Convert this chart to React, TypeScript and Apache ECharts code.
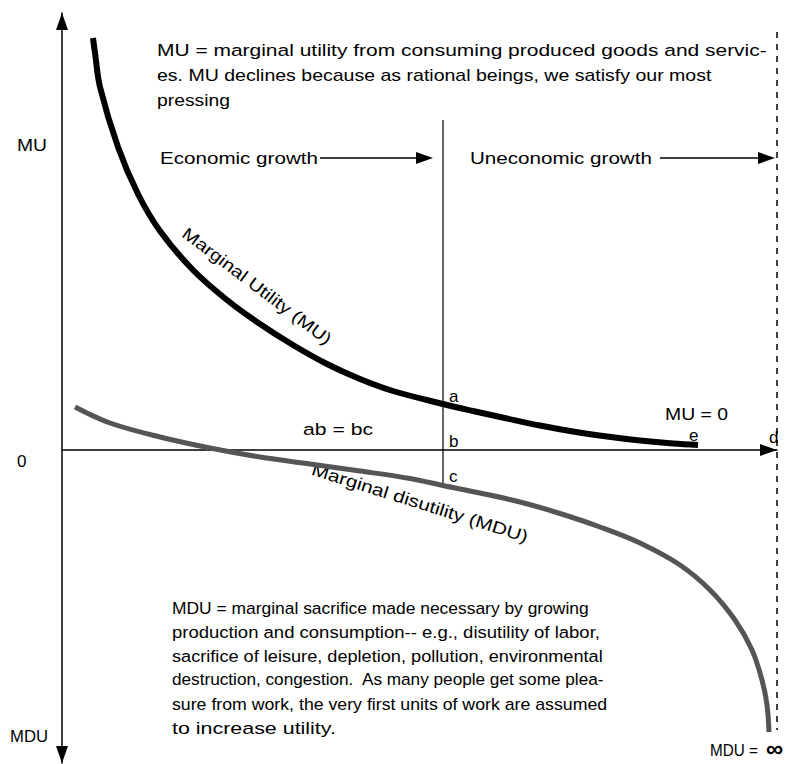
import React, { useEffect, useRef } from "react";
import * as echarts from "echarts";

// Marginal utility curve (x = quantity of growth, y = utility)
const muX = [3.1, 3.3, 3.8, 5.6, 7.6, 9.8, 13.1, 16.5, 19.8, 23.1, 26.5, 29.8, 33.1, 38.1, 41.1, 44.5, 47.8, 51.1, 54.5, 57.8, 61.1, 63.6];
const muY = [41.2, 39.7, 36.3, 30.3, 25.6, 21.9, 18.0, 15.0, 12.6, 10.5, 8.6, 7.1, 5.9, 4.6, 3.9, 3.15, 2.45, 1.85, 1.35, 0.95, 0.65, 0.5];

// Marginal disutility curve
const mduX = [1.3, 4.8, 9.8, 14.8, 19.8, 24.8, 29.8, 34.8, 38.1, 41.8, 45.8, 49.8, 53.8, 57.8, 61.8, 64.8, 67.3, 69.0, 70.0, 70.5, 70.7];
const mduY = [4.3, 2.7, 1.3, 0.2, -0.7, -1.4, -2.1, -2.85, -3.55, -4.3, -5.2, -6.35, -7.7, -9.3, -11.5, -14.0, -17.0, -20.0, -23.0, -25.5, -28.2];

// Reference lines
const optimumX = 38.1;
const optimumYRange = [33, -3.7];
const limitX = 71.5;
const limitYRange = [41.8, -28.0];

const topNote = [
  "MU = marginal utility from consuming produced goods and servic-",
  "es. MU declines because as rational beings, we satisfy our most",
  "pressing",
];
const topNoteWidths = [610, 555, 73];

const bottomNote = [
  "MDU = marginal sacrifice made necessary by growing",
  "production and consumption-- e.g., disutility of labor,",
  "sacrifice of leisure, depletion, pollution, environmental",
  "destruction, congestion.  As many people get some plea-",
  "sure from work, the very first units of work are assumed",
  "to increase utility.",
];
const bottomNoteWidths = [417, 428, 431, 433, 435, 164];

const FONT = "'Liberation Sans', Arial, Helvetica, sans-serif";

function measure(text: string, size: number, weight = "normal"): number {
  const ctx = document.createElement("canvas").getContext("2d");
  if (!ctx) return text.length * size * 0.5;
  ctx.font = `${weight} ${size}px ${FONT}`;
  return ctx.measureText(text).width;
}

function txt(
  text: string,
  x: number,
  y: number,
  size: number,
  width: number | null,
  opts: any = {}
): any {
  const weight = opts.weight || "normal";
  const align = opts.align || "left";
  const w = measure(text, size, weight);
  return {
    type: "text",
    x,
    y,
    rotation: opts.rotation || 0,
    scaleX: width ? width / w : 1,
    silent: true,
    style: {
      text,
      fill: "#000",
      font: `${weight} ${size}px ${FONT}`,
      textAlign: align,
      align,
      textVerticalAlign: "middle",
      verticalAlign: "middle",
    },
  };
}

function arrow(x1: number, x2: number, y: number): any[] {
  return [
    {
      type: "line",
      silent: true,
      shape: { x1, y1: y, x2: x2 - 14, y2: y },
      style: { stroke: "#000", lineWidth: 1.3 },
    },
    {
      type: "polygon",
      silent: true,
      shape: { points: [[x2 - 17, y - 6], [x2, y], [x2 - 17, y + 6]] },
      style: { fill: "#000" },
    },
  ];
}

export default function App() {
  const ref = useRef<HTMLDivElement>(null);

  useEffect(() => {
    if (!ref.current) return;
    const chart = echarts.init(ref.current, null, { renderer: "svg" });

    const graphics: any[] = [];
    topNote.forEach((line, i) => graphics.push(txt(line, 157, 50 + i * 25, 17, topNoteWidths[i])));
    bottomNote.forEach((line, i) => graphics.push(txt(line, 172, 608 + i * 24, 17, bottomNoteWidths[i])));
    graphics.push(txt("MU", 17, 145, 17, 30));
    graphics.push(txt("0", 17, 461, 17, null));
    graphics.push(txt("MDU", 10, 736, 17, 38));
    graphics.push(txt("Economic growth", 160, 158, 17, 158));
    graphics.push(txt("Uneconomic growth", 470, 158, 17, 182));
    graphics.push(...arrow(320, 433, 158));
    graphics.push(...arrow(660, 775, 158));
    graphics.push(txt("a", 449, 396, 17, null));
    graphics.push(txt("b", 449, 441, 17, null));
    graphics.push(txt("c", 449, 476, 17, null));
    graphics.push(txt("ab = bc", 303, 429, 17, 70));
    graphics.push(txt("MU = 0", 665, 414, 17, 63));
    graphics.push(txt("e", 689, 435, 17, null));
    graphics.push(txt("d", 769, 437, 17, null));
    graphics.push(txt("MDU =", 710, 750, 17, 48));
    graphics.push(txt("\u221E", 766, 748, 24, null, { weight: "bold" }));
    graphics.push(
      txt("Marginal Utility (MU)", 257, 286, 17, 182, { align: "center", rotation: (-37 * Math.PI) / 180 })
    );
    graphics.push(
      txt("Marginal disutility (MDU)", 420, 503, 17, 226, { align: "center", rotation: (-17.5 * Math.PI) / 180 })
    );

    chart.setOption({
      animation: false,
      backgroundColor: "#fff",
      grid: { left: 62, right: 13, top: 13, bottom: 1 },
      xAxis: {
        type: "value",
        min: 0,
        max: 71.5,
        axisLine: {
          onZero: true,
          symbol: ["none", "triangle"],
          symbolSize: [12, 17],
          symbolOffset: [0, -8.5],
          lineStyle: { color: "#000", width: 1.5 },
        },
        axisTick: { show: false },
        axisLabel: { show: false },
        splitLine: { show: false },
      },
      yAxis: {
        type: "value",
        min: -31.3,
        max: 43.7,
        axisLine: {
          onZero: true,
          symbol: ["triangle", "triangle"],
          symbolSize: [12, 17],
          symbolOffset: [8.5, -8.5],
          lineStyle: { color: "#000", width: 1.5 },
        },
        axisTick: { show: false },
        axisLabel: { show: false },
        splitLine: { show: false },
      },
      series: [
        {
          name: "MU",
          type: "line",
          data: muX.map((x, i) => [x, muY[i]]),
          smooth: 0.35,
          showSymbol: false,
          symbol: "none",
          silent: true,
          lineStyle: { color: "#000", width: 6, cap: "butt" },
          z: 5,
        },
        {
          name: "MDU",
          type: "line",
          data: mduX.map((x, i) => [x, mduY[i]]),
          smooth: 0.35,
          showSymbol: false,
          symbol: "none",
          silent: true,
          lineStyle: { color: "#555", width: 5, cap: "butt" },
          z: 4,
        },
        {
          name: "optimum",
          type: "line",
          data: optimumYRange.map((y) => [optimumX, y]),
          showSymbol: false,
          symbol: "none",
          silent: true,
          lineStyle: { color: "#000", width: 1.2 },
          z: 3,
        },
        {
          name: "limit",
          type: "line",
          data: limitYRange.map((y) => [limitX, y]),
          showSymbol: false,
          symbol: "none",
          silent: true,
          clip: false,
          lineStyle: { color: "#000", width: 1.5, type: [6, 6] },
          z: 3,
        },
      ],
      graphic: graphics,
    });

    return () => chart.dispose();
  }, []);

  return (
    <div
      ref={ref}
      style={{ position: "fixed", left: 0, top: 0, width: 790, height: 764, background: "#fff" }}
    />
  );
}
